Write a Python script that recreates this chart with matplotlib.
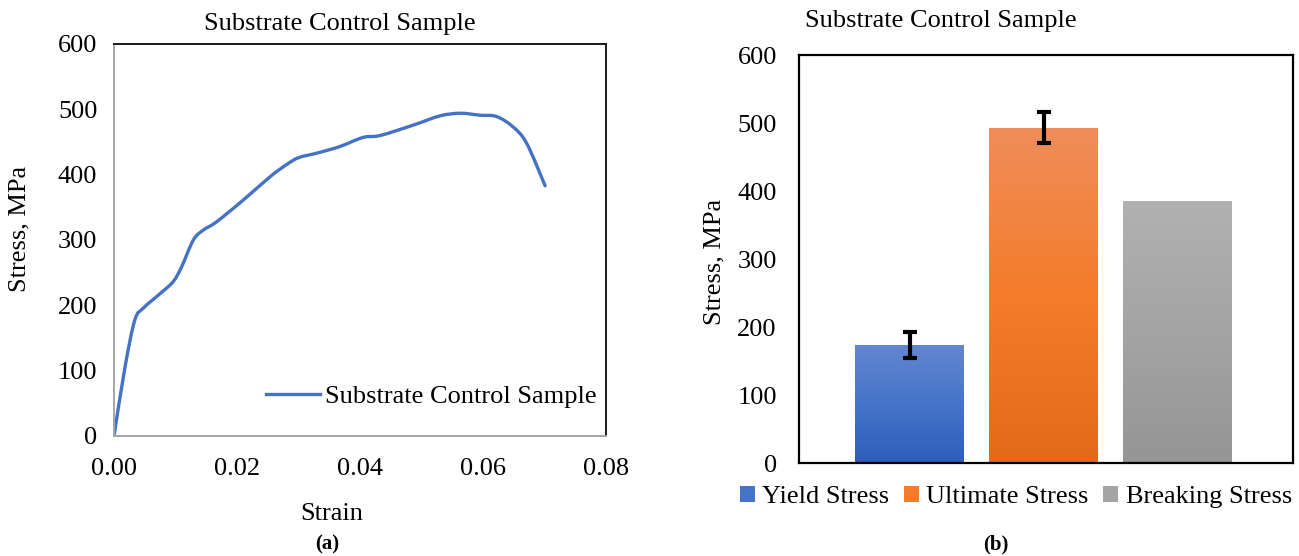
import numpy as np
import matplotlib
matplotlib.use("Agg")
import matplotlib.pyplot as plt
from matplotlib.colors import LinearSegmentedColormap
from matplotlib.patches import Patch, PathPatch
from matplotlib.lines import Line2D
from matplotlib.path import Path

# ---- data ----
strain = [0.0, 0.0018, 0.0034, 0.0048, 0.0075, 0.0096, 0.0110, 0.0129, 0.0145,
          0.0167, 0.0210, 0.0254, 0.0280, 0.0300, 0.0330, 0.0367, 0.0405, 0.0433,
          0.0487, 0.0530, 0.0563, 0.0595, 0.0622, 0.0649, 0.0671, 0.0701]
stress = [0, 106, 178, 196, 218, 236, 259, 300, 315,
          328, 361, 397, 415, 426, 433, 443, 457, 460,
          476, 490, 494, 491, 489, 473, 448, 383]

stress_types = ["Yield Stress", "Ultimate Stress", "Breaking Stress"]
stress_values = [174, 493, 385]
stress_errors = [19, 22.5, 0]

sample_name = "Substrate Control Sample"

# gradient colours (top, middle, bottom) for each bar
bar_gradients = [
    ["#6487CF", "#4674CA", "#2D5EB9"],
    ["#F08D5B", "#F47C2A", "#E36A19"],
    ["#B1B1B1", "#A4A4A4", "#959595"],
]
line_color = "#4472C4"

plt.rcParams["font.family"] = ["Liberation Serif", "DejaVu Serif"]
FS = 19

W, H = 1299, 556
fig = plt.figure(figsize=(W / 100, H / 100), dpi=100)

def fx(px):
    return px / W

def fy(py):
    return 1 - py / H


def smooth_path(xs, ys, tension=1 / 6):
    """Cubic Bezier path through the points (spreadsheet-style smoothed line)."""
    pts = np.column_stack([xs, ys]).astype(float)
    n = len(pts)
    verts = [pts[0]]
    codes = [Path.MOVETO]
    for i in range(n - 1):
        p0 = pts[max(i - 1, 0)]
        p1 = pts[i]
        p2 = pts[i + 1]
        p3 = pts[min(i + 2, n - 1)]
        c1 = p1 + (p2 - p0) * tension
        c2 = p2 - (p3 - p1) * tension
        verts += [c1, c2, p2]
        codes += [Path.CURVE4] * 3
    return Path(np.array(verts), codes)


# ---- (a) stress-strain curve ----
ax1 = fig.add_axes([fx(114), fy(436), fx(606 - 114), (436 - 44) / H])
ax1.set_xlim(0, 0.08)
ax1.set_ylim(0, 600)
# the curve is built in pixel-proportional space so the smoothing is isotropic
sx = 492 / 0.08
sy = 392 / 600
path_px = smooth_path(np.array(strain) * sx, np.array(stress) * sy)
path_data = Path(path_px.vertices / np.array([sx, sy]), path_px.codes)
ax1.add_patch(PathPatch(path_data, facecolor="none", edgecolor=line_color,
                        lw=2.4, capstyle="round", joinstyle="round"))
ax1.set_xticks([0, 0.02, 0.04, 0.06, 0.08])
ax1.set_xticklabels(["0.00", "0.02", "0.04", "0.06", "0.08"])
ax1.set_yticks(range(0, 601, 100))
ax1.tick_params(length=0, labelsize=FS, pad=12)
ax1.tick_params(axis="x", pad=16)
for side in ("left", "bottom"):
    ax1.spines[side].set_color("#A6A6A6")
    ax1.spines[side].set_linewidth(1.4)
for side in ("top", "right"):
    ax1.spines[side].set_color("#1A1A1A")
    ax1.spines[side].set_linewidth(1.4)
curve_handle = Line2D([], [], color=line_color, lw=2.4)
fig.legend([curve_handle], [sample_name], loc="center left",
           bbox_to_anchor=(fx(266), fy(396)), frameon=False, fontsize=FS,
           handlelength=2.05, handletextpad=0.2, borderpad=0, borderaxespad=0)

fig.text(fx(340), fy(30), sample_name, fontsize=FS, ha="center", va="baseline")
fig.text(fx(332), fy(520), "Strain", fontsize=FS, ha="center", va="baseline")
fig.text(fx(19), fy(229), "Stress, MPa", fontsize=FS, rotation=90,
         ha="center", va="center")
fig.text(fx(327), fy(549), "(a)", fontsize=15, fontweight="bold",
         ha="center", va="baseline")

# ---- (b) bar chart ----
ax2 = fig.add_axes([fx(799), fy(463), fx(1293 - 799), 408 / H])
xpos = np.arange(len(stress_types))
bars = ax2.bar(xpos, stress_values, width=0.813, color="none", edgecolor="none")
for rect, cols in zip(bars, bar_gradients):
    cmap = LinearSegmentedColormap.from_list("g", cols[::-1])
    x0, w = rect.get_x(), rect.get_width()
    h = rect.get_height()
    grad = np.linspace(0, 1, 256).reshape(-1, 1)
    im = ax2.imshow(grad, cmap=cmap, origin="lower", aspect="auto",
                    extent=[x0, x0 + w, 0, h], zorder=1)
    im.set_clip_path(rect)
ax2.set_xlim(-0.825, 2.862)
ax2.set_ylim(0, 600)
for x, v, e in zip(xpos, stress_values, stress_errors):
    if e > 0:
        ax2.errorbar(x, v, yerr=e, fmt="none", ecolor="black", elinewidth=3,
                     capsize=4.8, capthick=3, zorder=3)
ax2.set_xticks([])
ax2.set_yticks(range(0, 601, 100))
ax2.tick_params(length=0, labelsize=FS, pad=16)
for side in ax2.spines.values():
    side.set_color("black")
    side.set_linewidth(1.6)

handles = [Patch(facecolor=c[1], edgecolor="none") for c in bar_gradients]
fig.legend(handles, stress_types, loc="center left",
           bbox_to_anchor=(fx(740), fy(497)), ncol=3, frameon=False,
           fontsize=FS, handlelength=0.55, handleheight=0.55,
           handletextpad=0.3, columnspacing=0.55, borderpad=0, borderaxespad=0)

fig.text(fx(941), fy(27), sample_name, fontsize=FS, ha="center", va="baseline")
fig.text(fx(714), fy(262), "Stress, MPa", fontsize=FS, rotation=90,
         ha="center", va="center")
fig.text(fx(996), fy(549), "(b)", fontsize=15, fontweight="bold",
         ha="center", va="baseline")

fig.savefig("out.png", dpi=100)
